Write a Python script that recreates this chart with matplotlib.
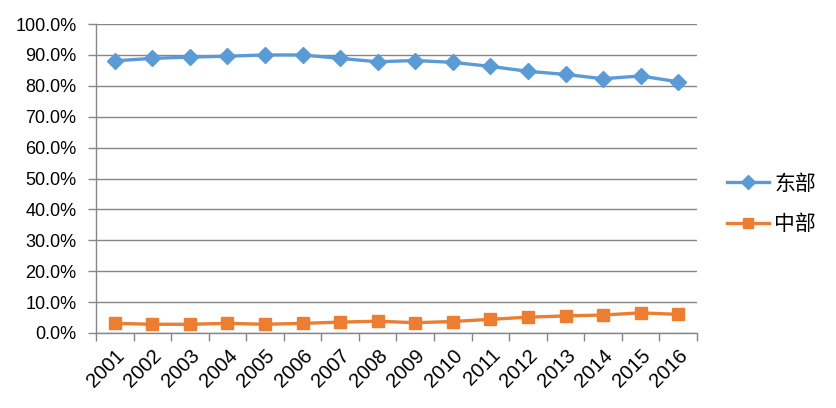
import matplotlib.pyplot as plt
from matplotlib.ticker import FixedLocator, FuncFormatter

plt.rcParams['font.family'] = ['Liberation Sans', 'Noto Sans CJK SC', 'DejaVu Sans']

years = ['2001', '2002', '2003', '2004', '2005', '2006', '2007', '2008',
         '2009', '2010', '2011', '2012', '2013', '2014', '2015', '2016']
east = [0.881, 0.889, 0.893, 0.896, 0.900, 0.900, 0.889, 0.878,
        0.882, 0.876, 0.863, 0.847, 0.837, 0.823, 0.832, 0.813]
central = [0.031, 0.028, 0.028, 0.031, 0.028, 0.031, 0.035, 0.038,
           0.033, 0.037, 0.044, 0.051, 0.055, 0.058, 0.065, 0.060]
series_names = ['东部', '中部']

fig = plt.figure(figsize=(8.37, 4.08), dpi=100)
ax = fig.add_axes([0.1147, 0.184, 0.718, 0.757])

x = list(range(len(years)))
ax.plot(x, east, color='#5B9BD5', linewidth=2.4, marker='D', markersize=8,
        label=series_names[0])
ax.plot(x, central, color='#ED7D31', linewidth=2.4, marker='s', markersize=8,
        label=series_names[1])

ax.set_xlim(-0.5, len(years) - 0.5)
ax.set_ylim(0, 1.0)
ax.set_yticks([i / 10 for i in range(11)])
ax.yaxis.set_major_formatter(FuncFormatter(lambda v, p: '{:.1f}%'.format(v * 100)))

# category labels in the middle, tick marks on the boundaries
ax.set_xticks(x)
ax.set_xticklabels(years, rotation=45, ha='right', rotation_mode='anchor')
ax.xaxis.set_minor_locator(FixedLocator([i - 0.5 for i in range(len(years) + 1)]))
ax.tick_params(axis='x', which='major', length=0, pad=9, labelsize=14.5)
ax.tick_params(axis='x', which='minor', length=6, color='#868686', width=1)
ax.tick_params(axis='y', length=6, color='#868686', width=1, pad=8, labelsize=13)
ax.tick_params(labelcolor='black')

ax.grid(axis='y', color='#868686', linewidth=1)
ax.set_axisbelow(True)
for side in ['top', 'right']:
    ax.spines[side].set_visible(False)
for side in ['left', 'bottom']:
    ax.spines[side].set_color('#868686')
    ax.spines[side].set_linewidth(1)

fig.legend(loc='center left', bbox_to_anchor=(0.869, 0.50), frameon=False,
           handlelength=2.0, labelspacing=0.9, handletextpad=0.25,
           borderaxespad=0, borderpad=0, markerscale=0.85,
           prop={'family': ['Noto Sans CJK SC', 'DejaVu Sans'], 'size': 15})

plt.savefig('out.png', dpi=100)
